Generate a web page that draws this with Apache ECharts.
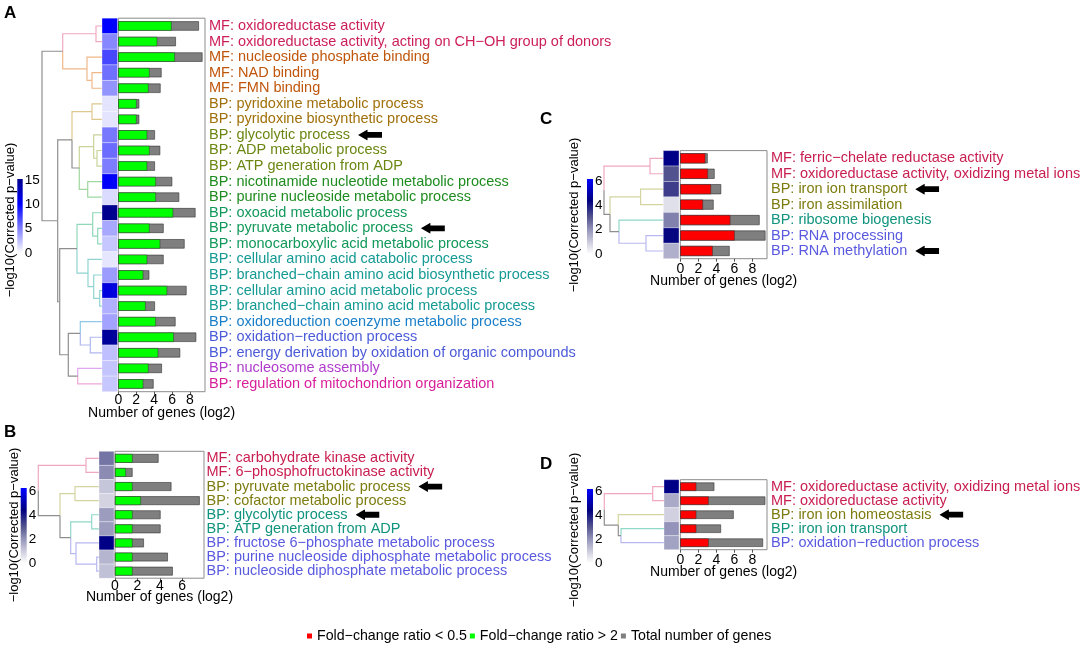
<!DOCTYPE html>
<html><head><meta charset="utf-8">
<script src="https://cdn.jsdelivr.net/npm/echarts@6/dist/echarts.min.js"></script>
<style>html,body{margin:0;padding:0;background:#fff}#c{width:1084px;height:647px}</style>
</head><body><div id="c"></div>
<script>
const FONT = '"Liberation Sans", Arial, Helvetica, sans-serif';
const LABEL_SIZE = 14.5;
const TICK_SIZE = 14;
const NAME_DOWN = 'Fold\u2212change ratio < 0.5';
const NAME_UP = 'Fold\u2212change ratio > 2';
const NAME_TOTAL = 'Total number of genes';

// ---------- Panel A ----------
const termsA = [
  'MF: oxidoreductase activity',
  'MF: oxidoreductase activity, acting on CH\u2212OH group of donors',
  'MF: nucleoside phosphate binding',
  'MF: NAD binding',
  'MF: FMN binding',
  'BP: pyridoxine metabolic process',
  'BP: pyridoxine biosynthetic process',
  'BP: glycolytic process',
  'BP: ADP metabolic process',
  'BP: ATP generation from ADP',
  'BP: nicotinamide nucleotide metabolic process',
  'BP: purine nucleoside metabolic process',
  'BP: oxoacid metabolic process',
  'BP: pyruvate metabolic process',
  'BP: monocarboxylic acid metabolic process',
  'BP: cellular amino acid catabolic process',
  'BP: branched\u2212chain amino acid biosynthetic process',
  'BP: cellular amino acid metabolic process',
  'BP: branched\u2212chain amino acid metabolic process',
  'BP: oxidoreduction coenzyme metabolic process',
  'BP: oxidation\u2212reduction process',
  'BP: energy derivation by oxidation of organic compounds',
  'BP: nucleosome assembly',
  'BP: regulation of mitochondrion organization'
];
const upA    = [5.95,4.35,6.32,3.49,3.38,2.04,2.04,3.23,3.49,3.23,4.2,4.2,6.13,3.49,4.68,3.23,2.79,5.46,3.05,4.2,6.2,4.46,3.38,2.79];
const totalA = [9.0,6.43,9.4,4.83,4.72,2.34,2.34,4.09,4.68,4.09,6.02,6.8,8.62,5.06,7.4,5.06,3.46,7.62,4.09,6.39,8.7,6.91,4.87,3.94];
const pvalA  = [10,4.7,7.2,5.6,4.2,1.05,1.05,5.3,5.8,5.1,10.3,1.4,15,3.4,2.2,1.0,3.9,11.5,3.1,3.6,14.5,2.5,2.3,2.2];
const clusterA = [0,0,1,1,1,2,2,3,3,3,4,4,5,5,5,6,6,6,6,7,8,8,9,10];
// dendrogram: [left, right, merge height]; leaves are row indices
const treeA = [
  [[0,1,6],[2,[3,4,10],15],39.3],
  [
    [[5,6,10],[[7,[8,9,5],8.3],[10,11,14.3],22.7],30],
    [
      [[12,[13,14,4.3],9.3],[15,[16,[17,18,2.3],8.3],14],25],
      [[19,[20,21,11.7],21.7],[22,23,24.3],33.7],
      42.3
    ],
    44.3
  ],
  60
];
const arrowsA = [7, 13];
const ticksA = [0,2,4,6,8];
const cbTicksA = [0,5,10,15];
const cbMaxA = 15.2;
const scaleStopsA = [[0,'#ffffff'],[10,'#0000ff'],[15.2,'#00008b']];
const labelColorsA = ['#cc1f5a','#c0560c','#a0700a','#6b8712','#1e8c1e','#12985a','#159a94','#1a7fc8','#4b5bd8','#b03ccc','#d81f9a'];
const branchColorsA = ['#f0a8c0','#f0b888','#dcc890','#c8d498','#a0d8a0','#90d8b8','#90d4d0','#90c8e8','#b0b8f0','#e0a8f0','#f0a8d8'];

// ---------- Panel B ----------
const termsB = [
  'MF: carbohydrate kinase activity',
  'MF: 6\u2212phosphofructokinase activity',
  'BP: pyruvate metabolic process',
  'BP: cofactor metabolic process',
  'BP: glycolytic process',
  'BP: ATP generation from ADP',
  'BP: fructose 6\u2212phosphate metabolic process',
  'BP: purine nucleoside diphosphate metabolic process',
  'BP: nucleoside diphosphate metabolic process'
];
const upB    = [1.57,0.98,1.57,2.31,1.57,1.57,1.57,1.57,1.57];
const totalB = [3.89,1.57,5.04,7.57,4.07,4.07,2.58,4.72,5.16];
const pvalB  = [2.5,2.15,1.1,0.85,1.85,1.85,4.5,1.4,1.2];
const clusterB = [0,0,1,1,2,2,3,3,3];
const treeB = [[0,1,13],[[2,3,24],[[4,5,7.3],[6,[7,8,2.3],23],28.3],39],60.7];
const arrowsB = [2, 4];
const ticksB = [0,2,4,6];

// ---------- Panel C ----------
const termsC = [
  'MF: ferric\u2212chelate reductase activity',
  'MF: oxidoreductase activity, oxidizing metal ions',
  'BP: iron ion transport',
  'BP: iron assimilation',
  'BP: ribosome biogenesis',
  'BP: RNA processing',
  'BP: RNA methylation'
];
const downC  = [2.78,3.07,3.41,2.52,5.56,6.04,3.6];
const totalC = [3.04,3.81,4.54,3.70,8.81,9.46,5.48];
const pvalC  = [4.5,3.05,3.4,0.6,2.3,4.3,1.5];
const clusterC = [0,0,1,1,2,3,3];
const treeC = [[0,1,13.3],[[2,3,22.7],[4,[5,6,17.3],44.3],53.3],59.3];
const arrowsC = [2, 6];
const ticksC = [0,2,4,6,8];

// ---------- Panel D ----------
const termsD = [
  'MF: oxidoreductase activity, oxidizing metal ions',
  'MF: oxidoreductase activity',
  'BP: iron ion homeostasis',
  'BP: iron ion transport',
  'BP: oxidation\u2212reduction process'
];
const downD  = [1.78,3.15,1.78,1.78,3.15];
const totalD = [3.78,9.44,5.93,4.52,9.19];
const pvalD  = [4.5,1.6,0.9,2.0,1.75];
const clusterD = [0,0,1,2,3];
const treeD = [[0,1,11.3],[2,[3,4,43],45.7],59.7];
const arrowsD = [2];
const ticksD = [0,2,4,6,8];

// shared small-panel colour scale / colour bar
const cbTicksSmall = [0,2,4,6];
const scaleStopsSmall = [[0,'#ffffff'],[1,'#cbcbdd'],[2,'#9494ba'],[3,'#55558f'],[4.4,'#000080'],[6.2,'#0000ff']];
const labelColorsSmall = ['#c81e50','#7c7c10','#11947e','#5a5ae0'];
const branchColorsSmall = ['#f0a8c0','#d4d4a0','#90d8c8','#b8b8f0'];

// ---------- helpers ----------
function hexToRgb(h){ h=h.replace('#',''); return [0,2,4].map(i=>parseInt(h.substr(i,2),16)); }
function makeScale(stops){
  return function(v){
    if (v <= stops[0][0]) return stops[0][1];
    for (let i=1;i<stops.length;i++){
      if (v <= stops[i][0]){
        const t=(v-stops[i-1][0])/(stops[i][0]-stops[i-1][0]);
        const a=hexToRgb(stops[i-1][1]), b=hexToRgb(stops[i][1]);
        const c=a.map((x,k)=>Math.round(x+(b[k]-x)*t));
        return 'rgb('+c.join(',')+')';
      }
    }
    return stops[stops.length-1][1];
  };
}
function dendroSegments(tree, cluster){
  const segs=[];
  function walk(n){
    if (typeof n === 'number') return {y:n, h:0, cl:cluster[n]};
    const a=walk(n[0]), b=walk(n[1]);
    const h=n[2], y=(a.y+b.y)/2;
    [a,b].forEach(c=>segs.push([h,y,c.h,c.y,c.cl]));
    return {y:y, h:h, cl:(a.cl===b.cl?a.cl:-1)};
  }
  walk(tree);
  return segs;
}
const ARROW = 'data:image/svg+xml;charset=utf-8,' + encodeURIComponent(
  "<svg xmlns='http://www.w3.org/2000/svg' width='24' height='11' viewBox='0 0 24 11'><path d='M0 5.5 L9.5 0 L9.5 2.6 L24 2.6 L24 8.4 L9.5 8.4 L9.5 11 Z' fill='black'/></svg>");

const option = {
  animation:false, backgroundColor:'#ffffff',
  grid:[], xAxis:[], yAxis:[], series:[],
  legend:{
    data:[NAME_DOWN, NAME_UP, NAME_TOTAL], left:302, top:624,
    icon:'rect', itemWidth:5, itemHeight:5, itemGap:3, selectedMode:false,
    itemStyle:{borderWidth:0},
    textStyle:{fontSize:14.2, color:'#000', fontFamily:FONT}
  },
  graphic:[]
};

function addPanel(P){
  const L=P.layout, n=P.terms.length;
  const rows=P.terms.map((_,i)=>i);
  const scale=makeScale(P.stops);
  let gi, xi, yi;
  // dendrogram
  gi=option.grid.length; option.grid.push({left:L.dLeft, top:L.top, width:L.dWidth, height:L.height});
  xi=option.xAxis.length; option.xAxis.push({gridIndex:gi, type:'value', min:0, max:L.dWidth, inverse:true, show:false});
  yi=option.yAxis.length; option.yAxis.push({gridIndex:gi, type:'value', min:-0.5, max:n-0.5, inverse:true, show:false});
  option.series.push({
    type:'custom', xAxisIndex:xi, yAxisIndex:yi, silent:true,
    data:dendroSegments(P.tree, P.cluster), encode:{x:[0,2], y:[1,3]},
    renderItem:function(params, api){
      const p0=api.coord([api.value(0),api.value(1)]);
      const p1=api.coord([api.value(0),api.value(3)]);
      const p2=api.coord([api.value(2),api.value(3)]);
      const cl=api.value(4);
      return {type:'polyline', shape:{points:[p0,p1,p2]},
        style:{stroke: cl<0 ? '#8f8f8f' : P.branchColors[cl], lineWidth:1.2, fill:'none'}};
    }
  });
  // heat column
  gi=option.grid.length; option.grid.push({left:L.hLeft, top:L.top, width:L.hWidth, height:L.height});
  xi=option.xAxis.length; option.xAxis.push({gridIndex:gi, type:'category', data:['p'], show:false});
  yi=option.yAxis.length; option.yAxis.push({gridIndex:gi, type:'category', data:rows, inverse:true, show:false});
  option.series.push({
    type:'custom', xAxisIndex:xi, yAxisIndex:yi, silent:true,
    data:P.pval.map((v,i)=>[0,i,v]), encode:{x:0, y:1},
    renderItem:function(params, api){
      const c=api.coord([0, api.value(1)]);
      const s=api.size([1,1]);
      return {type:'rect', shape:{x:c[0]-s[0]/2, y:c[1]-s[1]/2, width:s[0], height:s[1]},
        style:{fill:scale(api.value(2)), stroke:'rgba(255,255,255,0.55)', lineWidth:0.6}};
    }
  });
  // bars
  gi=option.grid.length; option.grid.push({left:L.bLeft, top:L.top, width:L.bWidth, height:L.height,
    show:true, borderColor:'#8c8c8c', borderWidth:1, backgroundColor:'transparent'});
  xi=option.xAxis.length; option.xAxis.push({gridIndex:gi, type:'value', min:0, max:L.xMax,
    axisLine:{show:false}, splitLine:{show:false},
    axisTick:{show:true, length:3, lineStyle:{color:'#555'}, customValues:P.ticks},
    axisLabel:{customValues:P.ticks, fontSize:TICK_SIZE, color:'#000', margin:L.tickMargin, fontFamily:FONT},
    name:'Number of genes (log2)', nameLocation:'middle', nameGap:L.nameGap, nameMoveOverlap:false,
    nameTextStyle:{fontSize:TICK_SIZE, color:'#000', fontFamily:FONT}});
  const rich={arr:{width:24, height:11, backgroundColor:{image:ARROW}}, sp:{width:8}};
  P.labelColors.forEach((c,k)=>{ rich['c'+k]={color:c, fontSize:LABEL_SIZE, fontFamily:FONT}; });
  yi=option.yAxis.length; option.yAxis.push({gridIndex:gi, type:'category', data:P.terms, inverse:true, position:'right',
    axisLine:{show:false}, axisTick:{show:false}, splitLine:{show:false},
    axisLabel:{interval:0, margin:L.labelMargin, fontSize:LABEL_SIZE, fontFamily:FONT, rich:rich,
      formatter:function(value, idx){
        const c='c'+P.cluster[idx];
        return P.arrows.indexOf(idx)>=0 ? '{'+c+'|'+value+'}{sp|}{arr|}' : '{'+c+'|'+value+'}';
      }}});
  option.series.push({type:'bar', name:NAME_TOTAL, xAxisIndex:xi, yAxisIndex:yi, data:P.total,
    barWidth:L.barW, barGap:'-100%', z:2,
    itemStyle:{color:'#7f7f7f', borderColor:'#333', borderWidth:0.6}});
  option.series.push({type:'bar', name:P.fgName, xAxisIndex:xi, yAxisIndex:yi, data:P.fg,
    barWidth:L.barW, barGap:'-100%', z:3,
    itemStyle:{color:P.fgColor, borderColor:'#333', borderWidth:0.5}});
  // colour bar
  gi=option.grid.length; option.grid.push({left:L.cLeft, top:L.cTop, width:L.cWidth, height:L.cHeight});
  xi=option.xAxis.length; option.xAxis.push({gridIndex:gi, type:'category', data:['cb'], show:false});
  yi=option.yAxis.length; option.yAxis.push({gridIndex:gi, type:'value', min:0, max:P.cbMax, position:'right',
    axisLine:{show:false}, axisTick:{show:false}, splitLine:{show:false},
    axisLabel:{customValues:P.cbTicks, fontSize:13.5, color:'#000', margin:2, fontFamily:FONT}});
  const gstops=P.stops.filter(s=>s[0]<=P.cbMax).map(s=>({offset:s[0]/P.cbMax, color:s[1]}));
  if (gstops[gstops.length-1].offset<1) gstops.push({offset:1, color:scale(P.cbMax)});
  option.series.push({type:'bar', xAxisIndex:xi, yAxisIndex:yi, data:[P.cbMax], barWidth:'100%', silent:true,
    itemStyle:{color:new echarts.graphic.LinearGradient(0,1,0,0,gstops)}});
  // texts
  option.graphic.push({type:'text', left:L.letter[0], top:L.letter[1],
    style:{text:P.letter, font:'bold 17px '+FONT, fill:'#000'}});
  option.graphic.push({type:'text', x:L.cTitle[0], y:L.cTitle[1], rotation:Math.PI/2,
    style:{text:'\u2212log10(Corrected p\u2212value)', font:'13px '+FONT, fill:'#000',
      align:'center', verticalAlign:'middle', textAlign:'center', textVerticalAlign:'middle'}});
}

addPanel({letter:'A', terms:termsA, fg:upA, fgName:NAME_UP, fgColor:'#00ff00', total:totalA, pval:pvalA,
  cluster:clusterA, tree:treeA, arrows:arrowsA, ticks:ticksA, cbTicks:cbTicksA, cbMax:cbMaxA, stops:scaleStopsA,
  labelColors:labelColorsA, branchColors:branchColorsA,
  layout:{top:18.2, height:373.5, dLeft:38, dWidth:64, hLeft:102, hWidth:15.5, bLeft:118.3, bWidth:86.7, xMax:9.68,
    barW:'60%', labelMargin:4, tickMargin:1, nameGap:14, cLeft:17.3, cTop:179, cWidth:5.4, cHeight:74, letter:[4,5], cTitle:[10,220]}});
addPanel({letter:'B', terms:termsB, fg:upB, fgName:NAME_UP, fgColor:'#00ff00', total:totalB, pval:pvalB,
  cluster:clusterB, tree:treeB, arrows:arrowsB, ticks:ticksB, cbTicks:cbTicksSmall, cbMax:6.25, stops:scaleStopsSmall,
  labelColors:labelColorsSmall, branchColors:branchColorsSmall,
  layout:{top:451.3, height:126.9, dLeft:35, dWidth:64, hLeft:99, hWidth:15, bLeft:115, bWidth:89, xMax:7.95,
    barW:'62%', labelMargin:2.5, tickMargin:1, nameGap:12, cLeft:20.7, cTop:488, cWidth:6, cHeight:75, letter:[4,424], cTitle:[14,525]}});
addPanel({letter:'C', terms:termsC, fg:downC, fgName:NAME_DOWN, fgColor:'#ff0000', total:totalC, pval:pvalC,
  cluster:clusterC, tree:treeC, arrows:arrowsC, ticks:ticksC, cbTicks:cbTicksSmall, cbMax:6.16, stops:scaleStopsSmall,
  labelColors:labelColorsSmall, branchColors:branchColorsSmall,
  layout:{top:150.6, height:108.1, dLeft:599.3, dWidth:64, hLeft:663.3, hWidth:15.7, bLeft:680.3, bWidth:86.7, xMax:9.63,
    barW:'65%', labelMargin:4, tickMargin:3, nameGap:15, cLeft:587, cTop:179, cWidth:6, cHeight:75, letter:[540,111], cTitle:[574,215]}});
addPanel({letter:'D', terms:termsD, fg:downD, fgName:NAME_DOWN, fgColor:'#ff0000', total:totalD, pval:pvalD,
  cluster:clusterD, tree:treeD, arrows:arrowsD, ticks:ticksD, cbTicks:cbTicksSmall, cbMax:6.17, stops:scaleStopsSmall,
  labelColors:labelColorsSmall, branchColors:branchColorsSmall,
  layout:{top:479.7, height:70, dLeft:600, dWidth:64, hLeft:664, hWidth:15, bLeft:680.3, bWidth:86.7, xMax:9.63,
    barW:'60%', labelMargin:4, tickMargin:3, nameGap:15, cLeft:587, cTop:489, cWidth:6, cHeight:74, letter:[540,456], cTitle:[574,530]}});

const chart = echarts.init(document.getElementById('c'), null, {renderer:'canvas'});
chart.setOption(option);
</script>
</body></html>
